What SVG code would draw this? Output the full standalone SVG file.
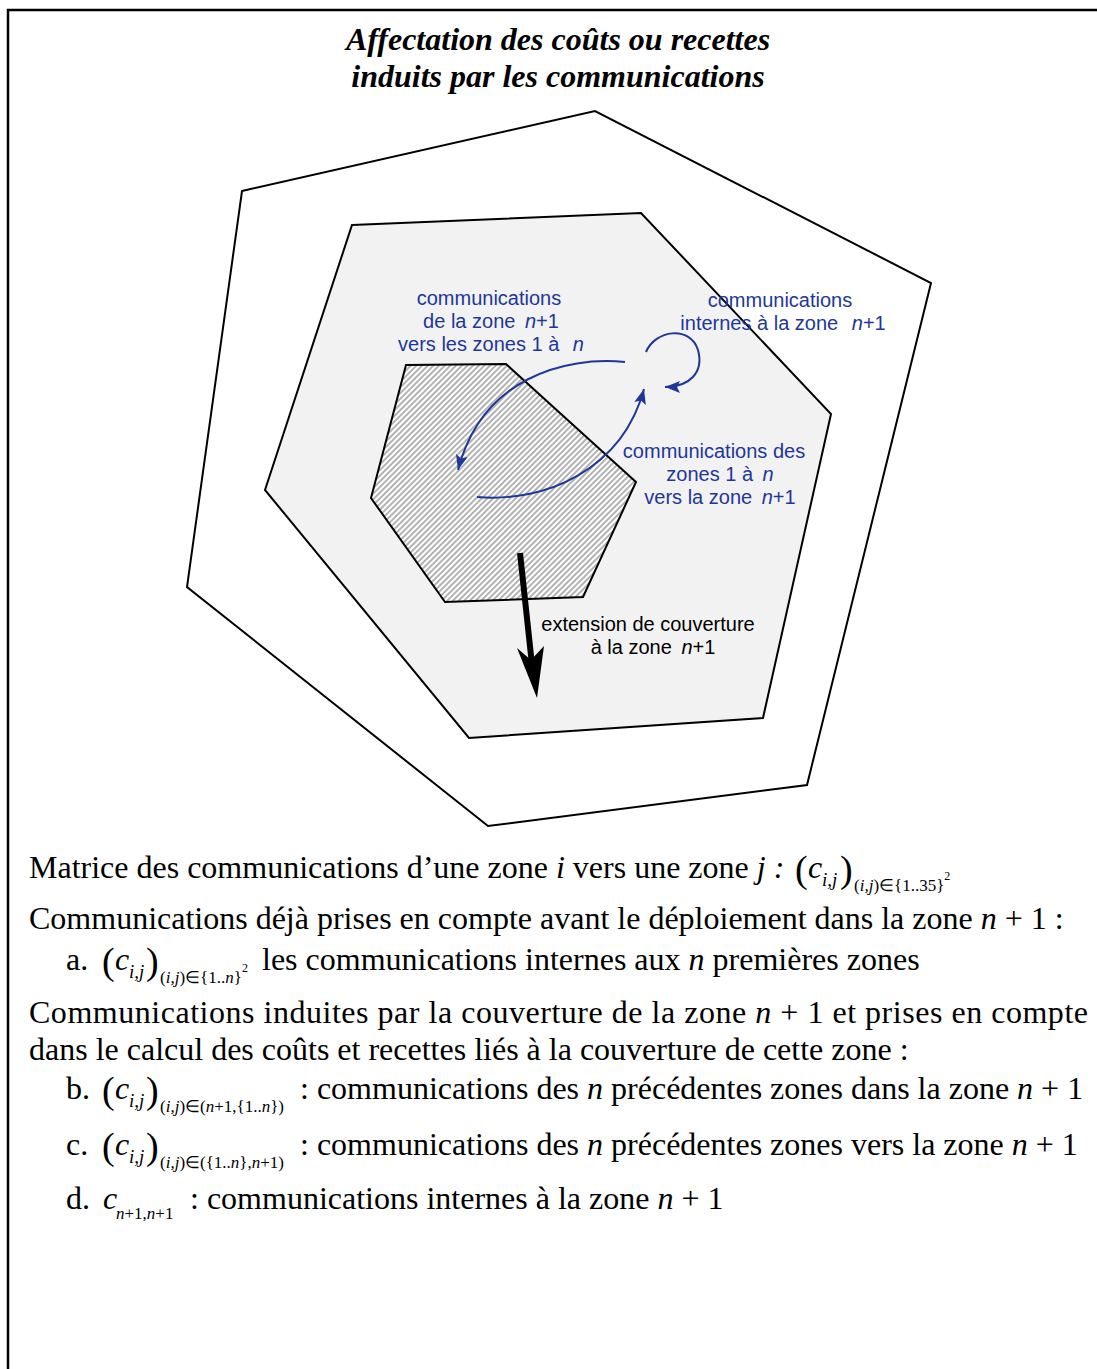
<svg xmlns="http://www.w3.org/2000/svg" width="1097" height="1369" viewBox="0 0 1097 1369">
<style>
.title{font-family:"Liberation Serif",serif;font-weight:bold;font-style:italic;font-size:32px;fill:#000;text-anchor:middle}
.lbl{font-family:"Liberation Sans",Arial,sans-serif;font-size:20px;fill:#1e3799;text-anchor:middle}
.lblk{font-family:"Liberation Sans",Arial,sans-serif;font-size:20px;fill:#000;text-anchor:middle}
.body{font-family:"Liberation Serif","Times New Roman",serif;font-size:32px;fill:#000}
.sub{font-family:"Liberation Serif","Times New Roman",serif;font-size:19px;fill:#000}
.sub2{font-family:"Liberation Serif","Times New Roman",serif;font-size:17px;fill:#000}
.sup{font-size:12px}
.par{font-family:"Liberation Serif","Times New Roman",serif;font-size:38px;fill:#000}
.it{font-style:italic}
.zone{stroke:#000;stroke-width:2;stroke-linejoin:miter}
.blue{fill:none;stroke:#1e3799;stroke-width:2}
</style>
<defs>
<pattern id="hatch" width="4" height="10" patternUnits="userSpaceOnUse" patternTransform="rotate(45)">
<rect width="4" height="10" fill="#fff"/>
<line x1="1" y1="0" x2="1" y2="10" stroke="#333" stroke-width="0.75"/>
</pattern>
<marker id="ab" markerWidth="16" markerHeight="14" refX="15" refY="7" orient="auto" markerUnits="userSpaceOnUse">
<path d="M0,1 L15,7 L0,13 L3,7 z" fill="#1e3799"/>
</marker>
</defs>
<rect width="1097" height="1369" fill="#fff"/>
<path d="M8,1369 V10 H1097" fill="none" stroke="#000" stroke-width="2.5"/>

<text class="title" x="558" y="50">Affectation des coûts ou recettes</text>
<text class="title" x="558" y="87">induits par les communications</text>

<g id="zone-outer"><polygon class="zone" fill="#fff" points="242,191 595,111 931,283 807,785 488,826 187,587"/></g>
<g id="zone-n1"><polygon class="zone" fill="#f2f2f2" points="352,225 641,213 831,414 763,718 469,738 265,490"/></g>
<g id="zones-1-n"><polygon class="zone" fill="url(#hatch)" points="406,365 506,364 636,482 583,597 445,602 371,498"/></g>

<g id="connectors">
<path class="blue" d="M625,362 C565,356 482,378 458,470" marker-end="url(#ab)"/>
<path class="blue" d="M477,497 C545,503 622,470 644,389" marker-end="url(#ab)"/>
<path class="blue" d="M646,352 C655,330 690,325 698,350 C704,372 690,387 665,387" marker-end="url(#ab)"/>
<path d="M520,553 L532,665" stroke="#000" stroke-width="6" fill="none"/>
<polygon points="537,698 517,648 531,660 544,646" fill="#000"/>
</g>

<g id="label-out">
<text class="lbl" x="489" y="305">communications</text>
<text class="lbl" x="491" y="328">de la zone <tspan class="it" dx="4">n</tspan>+1</text>
<text class="lbl" x="491" y="351">vers les zones 1 à <tspan class="it" dx="8">n</tspan></text>
</g>
<g id="label-internal">
<text class="lbl" x="780" y="307">communications</text>
<text class="lbl" x="783" y="330">internes à la zone <tspan class="it" dx="8">n</tspan>+1</text>
</g>
<g id="label-in">
<text class="lbl" x="714" y="458">communications des</text>
<text class="lbl" x="720" y="481">zones 1 à <tspan class="it" dx="4">n</tspan></text>
<text class="lbl" x="720" y="504">vers la zone <tspan class="it" dx="4">n</tspan>+1</text>
</g>
<g id="label-ext">
<text class="lblk" x="648" y="631">extension de couverture</text>
<text class="lblk" x="653" y="654">à la zone <tspan class="it" dx="4">n</tspan>+1</text>
</g>

<g id="text">
<text class="body" x="29" y="878">Matrice des communications d’une zone <tspan class="it">i</tspan> vers une zone <tspan class="it">j :</tspan></text>
<text class="par" x="795" y="882">(</text>
<text class="body it" x="808" y="878">c</text>
<text class="sub it" x="822" y="886">i,j</text>
<text class="par" x="840" y="882">)</text>
<text class="sub2" x="854" y="891">(<tspan class="it">i,j</tspan>)∈{1..35}<tspan class="sup" dy="-11">2</tspan></text>

<text class="body" x="29" y="929">Communications déjà prises en compte avant le déploiement dans la zone <tspan class="it">n</tspan> + 1 :</text>

<text class="body" x="66" y="970">a.</text>
<text class="par" x="102" y="974">(</text>
<text class="body it" x="115" y="970">c</text>
<text class="sub it" x="129" y="978">i,j</text>
<text class="par" x="146" y="974">)</text>
<text class="sub2" x="160" y="983">(<tspan class="it">i,j</tspan>)∈{1..<tspan class="it">n</tspan>}<tspan class="sup" dy="-11">2</tspan></text>
<text class="body" x="262" y="970">les communications internes aux <tspan class="it">n</tspan> premières zones</text>

<text class="body" x="29" y="1023" textLength="1059" lengthAdjust="spacing">Communications induites par la couverture de la zone <tspan class="it">n</tspan> + 1 et prises en compte</text>
<text class="body" x="29" y="1060">dans le calcul des coûts et recettes liés à la couverture de cette zone :</text>

<text class="body" x="66" y="1099">b.</text>
<text class="par" x="102" y="1103">(</text>
<text class="body it" x="115" y="1099">c</text>
<text class="sub it" x="129" y="1107">i,j</text>
<text class="par" x="146" y="1103">)</text>
<text class="sub2" x="160" y="1112">(<tspan class="it">i,j</tspan>)∈(<tspan class="it">n</tspan>+1,{1..<tspan class="it">n</tspan>})</text>
<text class="body" x="300" y="1099">: communications des <tspan class="it">n</tspan> précédentes zones dans la zone <tspan class="it">n</tspan> + 1</text>

<text class="body" x="66" y="1155">c.</text>
<text class="par" x="102" y="1159">(</text>
<text class="body it" x="115" y="1155">c</text>
<text class="sub it" x="129" y="1163">i,j</text>
<text class="par" x="146" y="1159">)</text>
<text class="sub2" x="160" y="1168">(<tspan class="it">i,j</tspan>)∈({1..<tspan class="it">n</tspan>},<tspan class="it">n</tspan>+1)</text>
<text class="body" x="300" y="1155">: communications des <tspan class="it">n</tspan> précédentes zones vers la zone <tspan class="it">n</tspan> + 1</text>

<text class="body" x="66" y="1209">d.</text>
<text class="body it" x="103" y="1209">c</text>
<text class="sub2" x="116" y="1219"><tspan class="it">n</tspan>+1,<tspan class="it">n</tspan>+1</text>
<text class="body" x="190" y="1209">: communications internes à la zone <tspan class="it">n</tspan> + 1</text>
</g>
</svg>
